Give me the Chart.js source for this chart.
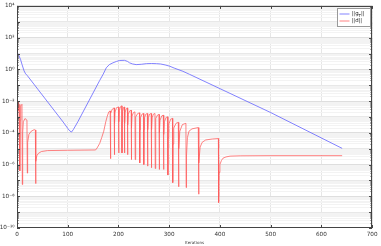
<!DOCTYPE html>
<html>
<head>
<meta charset="utf-8">
<script src="https://cdn.jsdelivr.net/npm/chart.js@4.4.1/dist/chart.umd.min.js"></script>
<style>
  html, body { margin: 0; padding: 0; background: #fff; }
  #wrap { width: 381px; height: 246px; position: relative; }
</style>
</head>
<body>
<div id="wrap"><canvas id="chart"></canvas></div>
<script>
// ||g_T|| : iteración y log10 del valor
const gIter = [0, 2, 4, 7, 10, 14, 17, 20, 91, 100, 104, 107.5, 111, 120,
  163, 170, 176, 182, 189, 196, 202.5, 212, 218, 222, 228, 235,
  245, 255, 265, 275, 283, 292, 301, 310, 327, 340, 500, 641];
const gLog = [1.03, 1.0, 0.85, 0.62, 0.3, -0.1, -0.28, -0.38, -3.32, -3.72, -3.88, -3.95, -3.8, -3.3,
  -0.7, -0.3, 0.1, 0.3, 0.41, 0.5, 0.56, 0.57, 0.5, 0.41, 0.34, 0.3,
  0.32, 0.36, 0.37, 0.36, 0.34, 0.28, 0.2, 0.08, -0.12, -0.31, -2.72, -4.98];

// ||d|| : iteración y log10 del valor
const dIter = [
  0, 0.5, 1, 2, 3, 4, 5.2, 5.8, 6.4, 7.5,
  9.8, 10.5, 11.2, 12.5, 15.7, 19.6, 20.3, 21, 23.5, 28,
  34, 36.2, 36.7, 37.4, 39, 42, 48, 60, 100, 155,
  158, 163, 167, 171, 175, 178, 181, 183.6, 184,
  184.5, 185.3, 188, 191.5, 192,
  192.5, 193.3, 196, 200, 200.5,
  201, 201.8, 204, 206.6, 207,
  207.4, 208.2, 210, 211.6, 212,
  212.4, 213.2, 215.5, 217.6, 218,
  218.5, 219.3, 222, 225, 225.5,
  226, 226.8, 229.5, 232.5, 233,
  233.5, 234.4, 238, 241.5, 242,
  242.5, 243.4, 246.5, 249.5, 250,
  250.5, 251.4, 254, 257, 257.5,
  258, 258.9, 261.5, 264.5, 265,
  265.5, 266.4, 269, 272, 272.5,
  273, 273.9, 277, 280, 280.5,
  281, 282, 285.5, 288.5, 289,
  289.5, 290.5, 294, 297, 297.5,
  298, 299.2, 303, 306.5, 307,
  307.6, 309, 313.5, 318, 318.5,
  319.2, 321, 326, 333, 333.5,
  334.2, 336, 339, 345, 357.4, 358,
  358.8, 361, 365, 372, 385, 397, 397.5,
  398.3, 400, 403, 406, 412, 420, 440, 500, 641
];
const dLog = [
  3.0, 0.5, -1.9, -2.6, -2.0, -2.7, -2.2, -6.4, -3.2, -2.3,
  -2.2, -7.26, -4.0, -3.3, -3.1, -3.2, -6.54, -4.6, -4.1, -3.9,
  -3.8, -3.82, -7.2, -5.8, -5.45, -5.3, -5.18, -5.12, -5.1, -5.08,
  -4.95, -4.67, -4.3, -3.9, -3.3, -2.95, -2.68, -2.62, -5.63,
  -3.5, -2.75, -2.5, -2.43, -5.38,
  -3.4, -2.7, -2.42, -2.37, -5.27,
  -3.3, -2.6, -2.35, -2.3, -5.27,
  -3.3, -2.65, -2.4, -2.37, -5.27,
  -3.4, -2.7, -2.47, -2.43, -5.38,
  -3.5, -2.85, -2.62, -2.58, -5.69,
  -3.7, -2.95, -2.72, -2.68, -5.69,
  -3.7, -3.0, -2.78, -2.74, -5.9,
  -3.8, -3.05, -2.82, -2.78, -6.0,
  -3.8, -3.05, -2.82, -2.78, -6.1,
  -3.8, -3.05, -2.82, -2.78, -6.2,
  -3.8, -3.05, -2.82, -2.78, -6.25,
  -3.9, -3.1, -2.88, -2.84, -6.31,
  -4.0, -3.2, -2.93, -2.89, -6.31,
  -4.1, -3.3, -3.03, -2.99, -6.66,
  -4.3, -3.45, -3.14, -3.09, -7.14,
  -4.7, -3.7, -3.4, -3.34, -7.4,
  -5.0, -3.9, -3.48, -3.4, -7.45,
  -5.4, -4.3, -3.9, -3.75, -3.67, -7.87,
  -5.9, -4.9, -4.6, -4.45, -4.39, -4.36, -8.4,
  -6.5, -6.0, -5.75, -5.6, -5.52, -5.47, -5.45, -5.44, -5.44
];

const xTicks = [0, 100, 200, 300, 400, 500, 600, 700];
const yExpMin = -10, yExpMax = 4;
const yLabelExp = [4, 2, 0, -2, -4, -6, -8, -10];

const SUP = {'0':'⁰','1':'¹','2':'²','3':'³','4':'⁴','5':'⁵','6':'⁶','7':'⁷','8':'⁸','9':'⁹','-':'⁻'};
const sup = n => String(n).split('').map(c => SUP[c]).join('');

function expOf(v) { return Math.log10(v); }
function esDecada(v) { const e = expOf(v); return Math.abs(e - Math.round(e)) < 1e-6; }

const gData = gIter.map((x, i) => ({ x: x, y: Math.pow(10, gLog[i]) }));
const dData = dIter.map((x, i) => ({ x: x, y: Math.pow(10, dLog[i]) }));

const colorG = 'rgba(100,100,255,0.8)';
const colorD = 'rgba(255,90,90,0.75)';
const fontTicks = { family: "'DejaVu Sans', sans-serif", size: 5.7 };

// marco, marcas hacia dentro y leyenda
const marco = {
  id: 'marco',
  afterDraw(chart) {
    const { ctx, chartArea: a, scales: { x, y } } = chart;
    ctx.save();
    ctx.strokeStyle = '#444';
    ctx.lineWidth = 1;
    ctx.beginPath();
    y.ticks.forEach(t => {
      const py = Math.round(y.getPixelForValue(t.value)) + 0.5;
      const len = esDecada(t.value) ? 3 : 1.5;
      ctx.moveTo(a.left, py); ctx.lineTo(a.left + len, py);
      ctx.moveTo(a.right, py); ctx.lineTo(a.right - len, py);
    });
    x.ticks.forEach(t => {
      const px = Math.round(x.getPixelForValue(t.value)) + 0.5;
      ctx.moveTo(px, a.bottom); ctx.lineTo(px, a.bottom - 3);
      ctx.moveTo(px, a.top); ctx.lineTo(px, a.top + 3);
    });
    ctx.stroke();
    ctx.strokeRect(Math.round(a.left) + 0.5, Math.round(a.top) + 0.5,
      Math.round(a.right - a.left) - 1, Math.round(a.bottom - a.top) - 1);

    // leyenda
    const bx = Math.round(a.right) - 34.5, by = Math.round(a.top) + 2.5, bw = 33, bh = 18;
    ctx.fillStyle = '#fff';
    ctx.fillRect(bx, by, bw, bh);
    ctx.strokeStyle = '#999';
    ctx.strokeRect(bx, by, bw, bh);
    const items = [
      { color: colorG, y: by + 5.5, parts: [['||g', 0], ['T', 1], ['||', 0]] },
      { color: colorD, y: by + 12.5, parts: [['||d||', 0]] }
    ];
    items.forEach(it => {
      ctx.strokeStyle = it.color;
      ctx.beginPath();
      ctx.moveTo(bx + 2, it.y); ctx.lineTo(bx + 12, it.y);
      ctx.stroke();
      let tx = bx + 14;
      ctx.fillStyle = '#222';
      ctx.textBaseline = 'middle';
      it.parts.forEach(([txt, sub]) => {
        ctx.font = (sub ? 4 : 5.4) + "px 'DejaVu Sans', sans-serif";
        ctx.fillText(txt, tx, it.y + (sub ? 1.5 : 0));
        tx += ctx.measureText(txt).width;
      });
    });
    ctx.restore();
  }
};

new Chart(document.getElementById('chart'), {
  type: 'line',
  data: {
    datasets: [
      { label: '||g_T||', data: gData, borderColor: colorG, borderWidth: 1,
        pointRadius: 0, tension: 0, fill: false },
      { label: '||d||', data: dData, borderColor: colorD, borderWidth: 1,
        pointRadius: 0, tension: 0, fill: false }
    ]
  },
  options: {
    responsive: true,
    maintainAspectRatio: false,
    animation: false,
    layout: { padding: { top: 4, right: 8, left: 0, bottom: 0 } },
    plugins: { legend: { display: false }, tooltip: { enabled: false } },
    scales: {
      x: {
        type: 'linear', min: 0, max: 700,
        afterBuildTicks: s => { s.ticks = xTicks.map(v => ({ value: v })); },
        afterFit: s => { s.height = 18; },
        grid: { color: '#e6e6e6', drawTicks: false },
        border: { display: false },
        ticks: { font: fontTicks, color: '#333', padding: 3.5, maxRotation: 0 },
        title: { display: true, text: 'Iterations', font: { family: "'DejaVu Sans', sans-serif", size: 4 },
          color: '#333', padding: { top: 0, bottom: 1 } }
      },
      y: {
        type: 'logarithmic', min: Math.pow(10, yExpMin), max: Math.pow(10, yExpMax),
        afterBuildTicks: s => {
          const t = [];
          for (let e = yExpMin; e <= yExpMax; e++) {
            t.push({ value: Math.pow(10, e) });
            if (e < yExpMax) for (let m = 2; m <= 9; m++) t.push({ value: m * Math.pow(10, e) });
          }
          s.ticks = t;
        },
        afterFit: s => { s.width = 17; },
        grid: {
          drawTicks: false,
          color: c => {
            const v = c.tick ? c.tick.value : 1;
            if (esDecada(v)) return Math.round(expOf(v)) % 2 === 0 ? '#dedede' : '#e8e8e8';
            return '#f3f3f3';
          }
        },
        border: { display: false },
        ticks: {
          font: fontTicks, color: '#333', padding: 2.5, autoSkip: false,
          callback: v => {
            if (!esDecada(v)) return '';
            const e = Math.round(expOf(v));
            return yLabelExp.includes(e) ? '10' + sup(e) : '';
          }
        }
      }
    }
  },
  plugins: [marco]
});
</script>
</body>
</html>
